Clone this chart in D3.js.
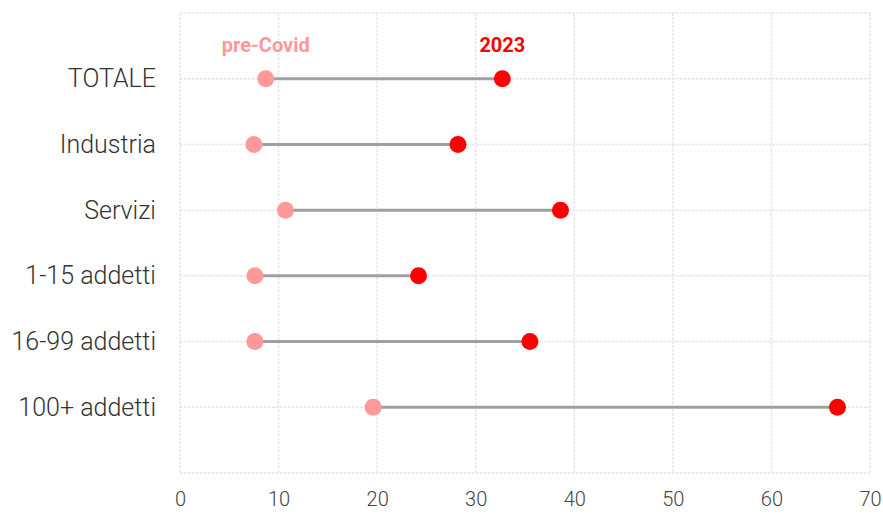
<!DOCTYPE html>
<html>
<head>
<meta charset="utf-8">
<script src="https://cdn.jsdelivr.net/npm/d3@7"></script>
<style>
  body { margin: 0; background: #fff; }
  svg text { font-family: Roboto, "Noto Sans", sans-serif; }
</style>
</head>
<body>
<script>
(function(){
    var categories = ["TOTALE", "Industria", "Servizi", "1-15 addetti", "16-99 addetti", "100+ addetti"];
    var preCovid = [8.7, 7.5, 10.7, 7.6, 7.6, 19.6];
    var year2023 = [32.7, 28.2, 38.6, 24.2, 35.5, 66.7];
    var xTicks = [0, 10, 20, 30, 40, 50, 60, 70];
    var seriesNames = ["pre-Covid", "2023"];
    var seriesColors = ["#ff9999", "#ff0000"];

    var svgWidth = 883;
    var svgHeight = 515;
    var left = 180, right = 870, top = 13, bottom = 473;

    var svg = d3.select("body").append("svg")
        .attr("width", svgWidth).attr("height", svgHeight);

    var x = d3.scaleLinear().domain([0, 70]).range([left, right]);
    var y = d3.scalePoint()
        .domain(["_top"].concat(categories, ["_bottom"]))
        .range([top, bottom]);

    // vertical grid
    svg.append("g").selectAll("line.vgrid").data(xTicks)
        .enter().append("line").attr("class", "vgrid")
        .attr("x1", function (d) { return x(d); })
        .attr("x2", function (d) { return x(d); })
        .attr("y1", top).attr("y2", bottom)
        .attr("stroke", "#e8e8e8").attr("stroke-width", 1.5)
        .attr("stroke-dasharray", "3,1");

    // horizontal grid
    svg.append("g").selectAll("line.hgrid").data(y.domain())
        .enter().append("line").attr("class", "hgrid")
        .attr("x1", left).attr("x2", right)
        .attr("y1", function (d) { return y(d); })
        .attr("y2", function (d) { return y(d); })
        .attr("stroke", "#e8e8e8").attr("stroke-width", 1.5)
        .attr("stroke-dasharray", "3,1");

    // x axis labels
    var xAxis = svg.append("g")
        .attr("transform", "translate(0," + bottom + ")")
        .call(d3.axisBottom(x).tickValues(xTicks).tickSize(0).tickPadding(19));
    xAxis.select(".domain").remove();
    xAxis.selectAll("text")
        .attr("font-size", 20).attr("font-weight", 300)
        .attr("fill", "#444").style("font-family", "Roboto, sans-serif");

    // y axis labels
    var yAxis = svg.append("g")
        .attr("transform", "translate(" + left + ",0)")
        .call(d3.axisLeft(y).tickValues(categories).tickSize(0).tickPadding(24));
    yAxis.select(".domain").remove();
    yAxis.selectAll("text")
        .attr("font-size", 25).attr("font-weight", 300)
        .attr("fill", "#333").style("font-family", "Roboto, sans-serif");

    // connectors
    svg.append("g").selectAll("line.conn").data(categories)
        .enter().append("line").attr("class", "conn")
        .attr("x1", function (d, i) { return x(preCovid[i]); })
        .attr("x2", function (d, i) { return x(year2023[i]); })
        .attr("y1", function (d) { return y(d); })
        .attr("y2", function (d) { return y(d); })
        .attr("stroke", "#a0a0a0").attr("stroke-width", 3);

    // dots
    [preCovid, year2023].forEach(function (vals, s) {
        svg.append("g").selectAll("circle").data(categories)
            .enter().append("circle")
            .attr("cx", function (d, i) { return x(vals[i]); })
            .attr("cy", function (d) { return y(d); })
            .attr("r", 8.5)
            .attr("fill", seriesColors[s]);
    });

    // series labels above the first row
    svg.append("g").selectAll("text.series").data(seriesNames)
        .enter().append("text").attr("class", "series")
        .attr("x", function (d, i) { return x([preCovid, year2023][i][0]); })
        .attr("y", y("_top") + 39)
        .attr("text-anchor", "middle")
        .attr("font-size", 20).attr("font-weight", 700)
        .attr("fill", function (d, i) { return seriesColors[i]; })
        .text(function (d) { return d; });
})();
</script>
</body>
</html>
